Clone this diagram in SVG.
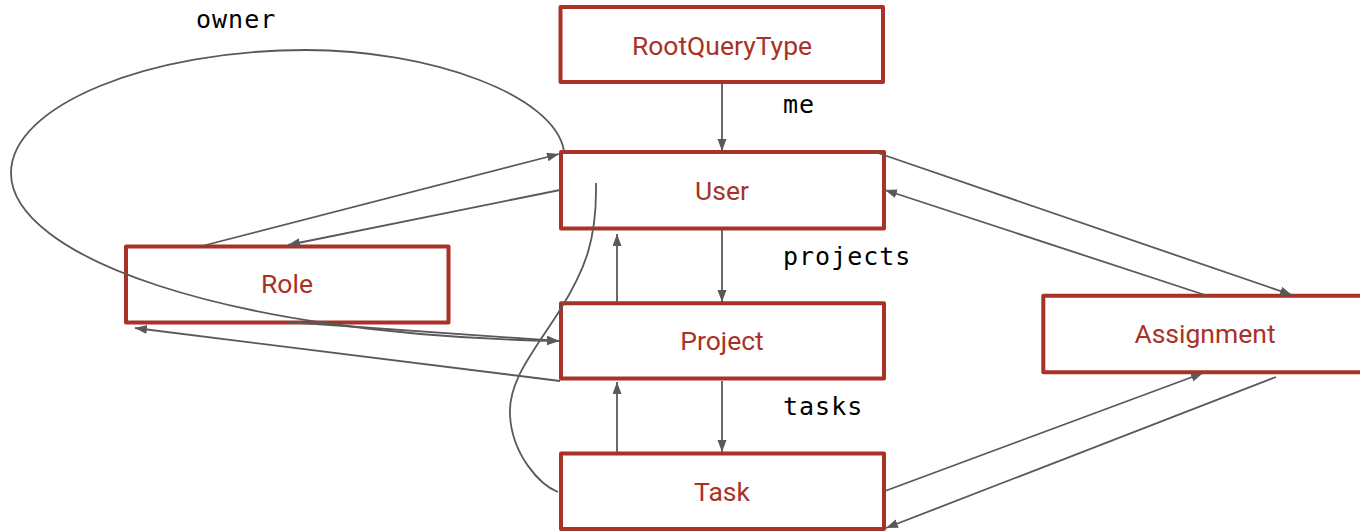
<svg xmlns="http://www.w3.org/2000/svg" width="1360" height="532" viewBox="0 0 1360 532">
<style>
.box{fill:none;stroke:#a93226;stroke-width:4;stroke-linejoin:round}
.lbl{font-family:Roboto,"Liberation Sans",sans-serif;font-size:26.5px;fill:#a93226;text-anchor:middle}
.edge{fill:none;stroke:#595959;stroke-width:1.8}
.mono{font-family:"DejaVu Sans Mono","Liberation Mono",monospace;font-size:25px;fill:#000;letter-spacing:1px}
</style>
<defs>
<marker id="ah" markerUnits="userSpaceOnUse" markerWidth="13" markerHeight="10" refX="12" refY="4.5" orient="auto">
<path d="M0,0 L12,4.5 L0,9 z" fill="#595959"/>
</marker>
</defs>
<rect width="1360" height="532" fill="#fff"/>
<g id="RootQueryType"><rect class="box" x="560.5" y="7" width="322.5" height="75"/><text class="lbl" x="722" y="55">RootQueryType</text></g>
<g id="User"><rect class="box" x="561" y="152" width="323" height="76.5"/><text class="lbl" x="722" y="200">User</text></g>
<g id="Project"><rect class="box" x="561" y="303.3" width="323" height="75.2"/><text class="lbl" x="722" y="350">Project</text></g>
<g id="Task"><rect class="box" x="561" y="453.5" width="323" height="75.5"/><text class="lbl" x="722" y="500.5">Task</text></g>
<g id="Role"><rect class="box" x="126" y="246.5" width="322.5" height="76"/><text class="lbl" x="287" y="293">Role</text></g>
<g id="Assignment"><rect class="box" x="1043.3" y="295.7" width="324" height="76.6"/><text class="lbl" x="1205" y="343">Assignment</text></g>
<g id="connectors">
<path class="edge" marker-end="url(#ah)" d="M722 84 L722 151"/>
<path class="edge" marker-end="url(#ah)" d="M722 230 L722 302"/>
<path class="edge" marker-end="url(#ah)" d="M722 381 L722 452"/>
<path class="edge" marker-end="url(#ah)" d="M617 302 L617 234"/>
<path class="edge" marker-end="url(#ah)" d="M617 452 L617 382"/>
<path class="edge" marker-end="url(#ah)" d="M202 246 L559 154"/>
<path class="edge" marker-end="url(#ah)" d="M560 190 L288 245"/>
<path class="edge" marker-end="url(#ah)" d="M560 381 L135 328"/>
<path class="edge" marker-end="url(#ah)" d="M287 322 L559 341"/>
<path class="edge" marker-end="url(#ah)" d="M564 151 C555 95 430 50 306 50 C150 50 11 105 11 173 C11 255 220 335 559 341"/>
<path class="edge" d="M596 183 C597 240 585 270 560 310 C535 350 508 380 510 415 C512 455 540 485 558 492"/>
<path class="edge" marker-end="url(#ah)" d="M875 152 L1292 295"/>
<path class="edge" marker-end="url(#ah)" d="M1205 295 L885 190"/>
<path class="edge" marker-end="url(#ah)" d="M885 491 L1203 373"/>
<path class="edge" marker-end="url(#ah)" d="M1276 377 L886 528"/>
<text class="mono" x="196" y="28">owner</text>
<text class="mono" x="783" y="113">me</text>
<text class="mono" x="783" y="265">projects</text>
<text class="mono" x="783" y="415">tasks</text>
</g>
</svg>
